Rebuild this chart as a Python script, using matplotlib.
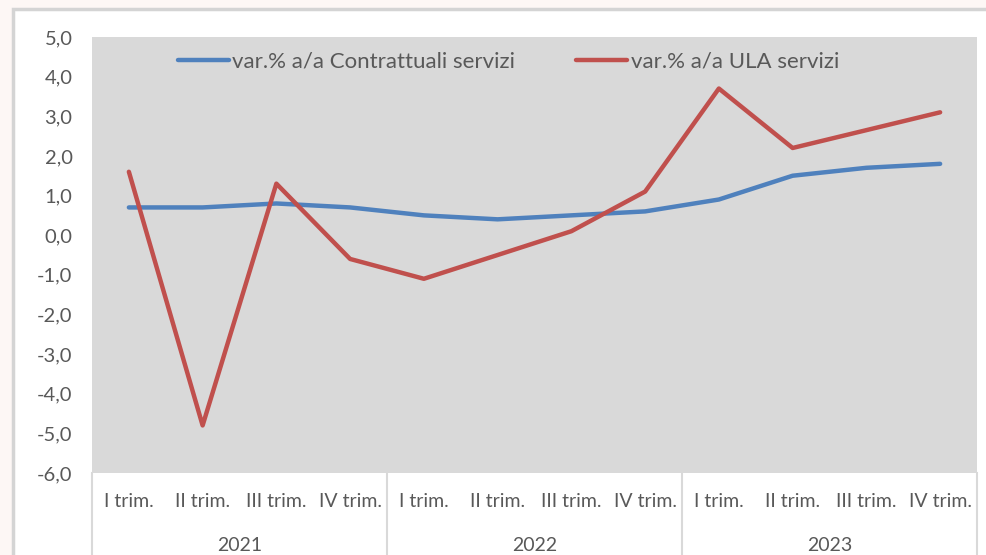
import matplotlib
matplotlib.use("Agg")
import matplotlib.pyplot as plt
from matplotlib.patches import Rectangle
from matplotlib.lines import Line2D
import matplotlib.transforms as mtransforms
from matplotlib.ticker import FuncFormatter

years = ["2021", "2022", "2023"]
quarters = ["I trim.", "II trim.", "III trim.", "IV trim."]
categories = [q for y in years for q in quarters]
contrattuali = [0.7, 0.7, 0.8, 0.7, 0.5, 0.4, 0.5, 0.6, 0.9, 1.5, 1.7, 1.8]
ula = [1.6, -4.8, 1.3, -0.6, -1.1, -0.5, 0.1, 1.1, 3.7, 2.2, 2.65, 3.1]
series_names = ["var.% a/a Contrattuali servizi", "var.% a/a ULA servizi"]
series_colors = ["#4F81BD", "#C0504D"]

plt.rcParams['font.family'] = ['Lato', 'DejaVu Sans']
text_color = "#595959"

W, H = 986, 555
fig = plt.figure(figsize=(W / 100, H / 100), dpi=100)
fig.patch.set_facecolor("#fdf7f5")
# white chart frame with light gray border
fig.patches.append(Rectangle((13 / W, -0.05), 1, 1.05 - 9 / H, transform=fig.transFigure,
                             facecolor="white", edgecolor="#d4d4d4", linewidth=2.5, zorder=-5))

ax = fig.add_axes([92 / W, 1 - 473 / H, (977 - 92) / W, (473 - 37) / H])
ax.set_zorder(2)
ax.set_facecolor("#d9d9d9")
for s in ax.spines.values():
    s.set_visible(False)

x = list(range(len(categories)))
ax.plot(x, contrattuali, color=series_colors[0], lw=3.2, label=series_names[0],
        solid_capstyle="round", solid_joinstyle="round")
ax.plot(x, ula, color=series_colors[1], lw=3.2, label=series_names[1],
        solid_capstyle="round", solid_joinstyle="round")

ax.set_xlim(-0.5, len(categories) - 0.5)
ax.set_ylim(-6, 5)
ax.set_yticks(range(-6, 6))
ax.yaxis.set_major_formatter(FuncFormatter(lambda v, p: f"{v:.1f}".replace(".", ",")))
ax.tick_params(axis="y", length=0, pad=14, labelsize=14.5, labelcolor=text_color)
ax.set_xticks(x)
ax.set_xticklabels(categories)
ax.tick_params(axis="x", length=0, pad=14.5, labelsize=14, labelcolor=text_color)

trans = mtransforms.blended_transform_factory(ax.transData, ax.transAxes)
n = len(quarters)
for i, yr in enumerate(years):
    ax.text(i * n + (n - 1) / 2, -0.167, yr, transform=trans, ha="center", va="center",
            fontsize=14, color=text_color, clip_on=False)
for b in range(len(years) + 1):
    ax.add_line(Line2D([b * n - 0.5, b * n - 0.5], [0, -0.3], transform=trans,
                       color="#d9d9d9", lw=1.5, clip_on=False))

leg = ax.legend(ncol=2, loc="upper center", bbox_to_anchor=(0.4706, 1.013), frameon=False,
                fontsize=16, handlelength=2.3, handletextpad=0.15, columnspacing=2.75)
for t in leg.get_texts():
    t.set_color(text_color)

fig.savefig("out.png", dpi=100, facecolor=fig.get_facecolor())
